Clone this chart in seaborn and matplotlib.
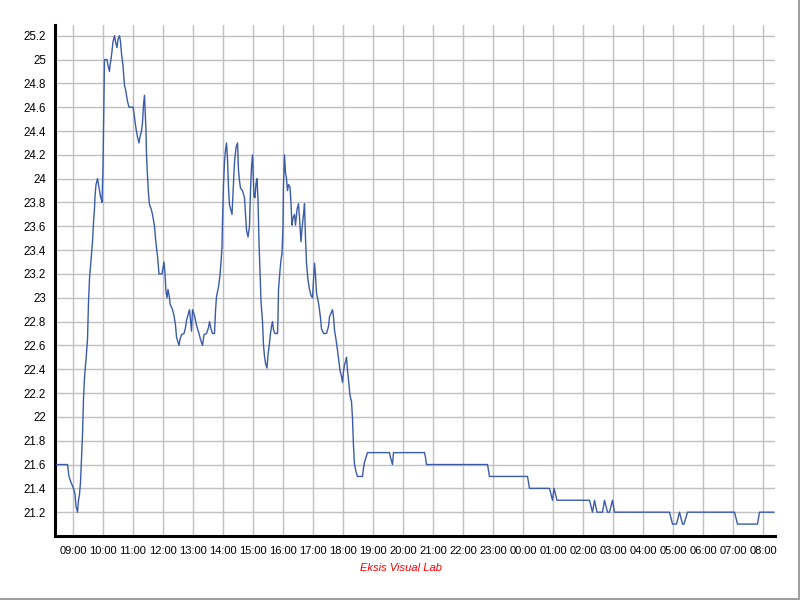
import numpy as np
import pandas as pd
import matplotlib
matplotlib.use("Agg")
import matplotlib.pyplot as plt
from matplotlib.lines import Line2D
import seaborn as sns

# minutes after 09:00 (first day) and temperature readings
minutes = [-33, -11, -8, -4, 1, 4, 6, 9, 11, 13, 15, 17, 19, 21, 23, 26, 29, 31, 33, 35,
           37, 39, 41, 43, 44, 46, 49, 51, 53, 55, 57, 58, 60, 62, 63, 68, 70, 73, 74, 76,
           78, 80, 83, 85, 88, 90, 93, 95, 97, 100, 103, 105, 107, 109, 112, 120, 122, 124, 126, 129,
           132, 134, 137, 139, 141, 143, 146, 147, 149, 151, 153, 156, 159, 161, 163, 165, 167, 169, 171, 172,
           178, 180, 182, 184, 186, 188, 190, 193, 194, 199, 202, 205, 207, 212, 214, 217, 222, 225, 227, 231,
           233, 235, 237, 239, 243, 247, 249, 252, 255, 259, 262, 267, 271, 273, 276, 279, 283, 285, 287, 291,
           294, 296, 298, 299, 301, 303, 305, 307, 309, 311, 313, 316, 318, 321, 323, 326, 329, 331, 333, 335,
           339, 343, 345, 347, 350, 353, 355, 357, 359, 362, 364, 366, 368, 370, 372, 374, 376, 379, 381, 383,
           385, 388, 390, 393, 395, 397, 399, 401, 404, 409, 410, 411, 414, 416, 418, 420, 421, 423, 425, 427,
           429, 431, 434, 436, 438, 440, 443, 445, 448, 451, 453, 456, 458, 461, 463, 465, 467, 470, 473, 476,
           479, 481, 483, 485, 487, 489, 492, 495, 497, 501, 507, 511, 513, 516, 519, 521, 523, 526, 529, 531,
           534, 537, 539, 541, 543, 545, 547, 549, 552, 554, 557, 559, 561, 563, 566, 569, 579, 581, 583, 586,
           589, 633, 635, 639, 641, 703, 705, 707, 829, 833, 909, 913, 953, 959, 962, 968, 1033, 1039, 1043, 1048,
           1059, 1063, 1069, 1073, 1079, 1083, 1193, 1199, 1207, 1213, 1219, 1222, 1229, 1323, 1329, 1369, 1373, 1402]

temps = [21.6, 21.6, 21.5, 21.45, 21.4, 21.35, 21.25, 21.2, 21.3, 21.35, 21.45, 21.65, 21.85, 22.15, 22.33, 22.48, 22.65, 22.96, 23.16, 23.26,
         23.35, 23.47, 23.63, 23.75, 23.85, 23.95, 24.0, 23.95, 23.9, 23.85, 23.82, 23.8, 24.1, 24.7, 25.0, 25.0, 24.95, 24.9, 24.95, 25.0,
         25.07, 25.15, 25.2, 25.15, 25.1, 25.17, 25.2, 25.15, 25.05, 24.95, 24.78, 24.75, 24.7, 24.65, 24.6, 24.6, 24.55, 24.48, 24.42, 24.35,
         24.3, 24.35, 24.4, 24.47, 24.62, 24.7, 24.4, 24.2, 24.02, 23.87, 23.78, 23.75, 23.7, 23.65, 23.6, 23.5, 23.42, 23.35, 23.25, 23.2,
         23.2, 23.25, 23.3, 23.2, 23.05, 23.0, 23.07, 23.0, 22.95, 22.9, 22.85, 22.77, 22.67, 22.6, 22.65, 22.69, 22.7, 22.75, 22.81, 22.87,
         22.9, 22.81, 22.72, 22.9, 22.85, 22.77, 22.74, 22.7, 22.65, 22.6, 22.69, 22.7, 22.75, 22.8, 22.74, 22.7, 22.7, 22.89, 23.01, 23.09,
         23.19, 23.3, 23.43, 23.64, 23.95, 24.14, 24.24, 24.3, 24.17, 23.92, 23.78, 23.73, 23.7, 23.96, 24.14, 24.26, 24.3, 24.07, 23.98, 23.92,
         23.9, 23.84, 23.7, 23.57, 23.51, 23.6, 23.9, 24.1, 24.2, 23.85, 23.84, 23.96, 24.0, 23.82, 23.47, 23.22, 22.97, 22.8, 22.6, 22.51,
         22.45, 22.41, 22.52, 22.62, 22.7, 22.76, 22.8, 22.73, 22.7, 22.7, 22.83, 23.07, 23.23, 23.32, 23.37, 23.61, 23.95, 24.2, 24.05, 24.0,
         23.9, 23.95, 23.93, 23.79, 23.61, 23.67, 23.7, 23.61, 23.74, 23.79, 23.67, 23.47, 23.58, 23.7, 23.79, 23.5, 23.29, 23.15, 23.07, 23.02,
         23.0, 23.14, 23.29, 23.19, 23.04, 23.0, 22.93, 22.83, 22.74, 22.7, 22.7, 22.76, 22.84, 22.87, 22.9, 22.84, 22.73, 22.65, 22.56, 22.49,
         22.39, 22.34, 22.29, 22.38, 22.44, 22.46, 22.5, 22.39, 22.27, 22.18, 22.13, 21.99, 21.75, 21.6, 21.54, 21.5, 21.5, 21.57, 21.62, 21.66,
         21.7, 21.7, 21.66, 21.6, 21.7, 21.7, 21.66, 21.6, 21.6, 21.5, 21.5, 21.4, 21.4, 21.3, 21.4, 21.3, 21.3, 21.2, 21.3, 21.2,
         21.2, 21.3, 21.2, 21.2, 21.3, 21.2, 21.2, 21.1, 21.1, 21.2, 21.1, 21.1, 21.2, 21.2, 21.1, 21.1, 21.2, 21.2]

hour_labels = ["09:00", "10:00", "11:00", "12:00", "13:00", "14:00", "15:00", "16:00",
               "17:00", "18:00", "19:00", "20:00", "21:00", "22:00", "23:00", "00:00",
               "01:00", "02:00", "03:00", "04:00", "05:00", "06:00", "07:00", "08:00"]
y_ticks = [21.2, 21.4, 21.6, 21.8, 22.0, 22.2, 22.4, 22.6, 22.8, 23.0, 23.2, 23.4, 23.6,
           23.8, 24.0, 24.2, 24.4, 24.6, 24.8, 25.0, 25.2]
footer = "Eksis Visual Lab"

sns.set_theme(style="white")
plt.rcParams['font.family'] = ['Liberation Sans', 'DejaVu Sans']

fig = plt.figure(figsize=(8, 6), dpi=100)
fig.patch.set_facecolor("white")
ax = fig.add_axes([55 / 800, 1 - 536 / 600, 720 / 800, (536 - 25) / 600])
ax.set_facecolor("white")

df = pd.DataFrame({"minutes": minutes, "temp": temps})
sns.lineplot(data=df, x="minutes", y="temp", ax=ax, color="#3a5ca8",
             linewidth=1.0, estimator=None, sort=False, zorder=3)

ax.set_xlim(-36, 1404)
ax.set_ylim(21.0, 25.29)

ax.set_xticks([i * 60 for i in range(len(hour_labels))], hour_labels)
ax.set_xticks(np.arange(-30, 1404, 10), minor=True)
ax.set_yticks(y_ticks, ["%g" % v for v in y_ticks])
ax.set_yticks(np.arange(21.04, 25.29, 0.04), minor=True)

ax.grid(True, which="major", color="#c0c0c0", linewidth=1.0)
ax.set_axisbelow(True)

for s in ["top", "right"]:
    ax.spines[s].set_visible(False)
for s in ["left", "bottom"]:
    ax.spines[s].set_color("black")
    ax.spines[s].set_linewidth(2.2)

ax.tick_params(axis="x", which="major", length=4, width=1, color="#707070",
               labelsize=8, pad=3, labelcolor="black")
ax.tick_params(axis="x", which="minor", length=2.5, width=1, color="#707070")
ax.tick_params(axis="y", which="major", length=2.5, width=1, color="#707070",
               labelsize=8.3, pad=4, labelcolor="black")
ax.tick_params(axis="y", which="minor", length=2, width=1, color="#707070")
ax.set_xlabel("")
ax.set_ylabel("")

fig.text(401 / 800, 1 - 568 / 600, footer, color="#ff0000", style="italic",
         fontsize=8, ha="center", va="center")

# grey frame on right and bottom edges of the image
fig.lines.append(Line2D([0, 1], [0.001, 0.001], transform=fig.transFigure,
                        color="#a0a0a0", linewidth=1.5))
fig.lines.append(Line2D([0.999, 0.999], [0, 1], transform=fig.transFigure,
                        color="#a0a0a0", linewidth=1.5))

fig.savefig("out.png", dpi=100)
